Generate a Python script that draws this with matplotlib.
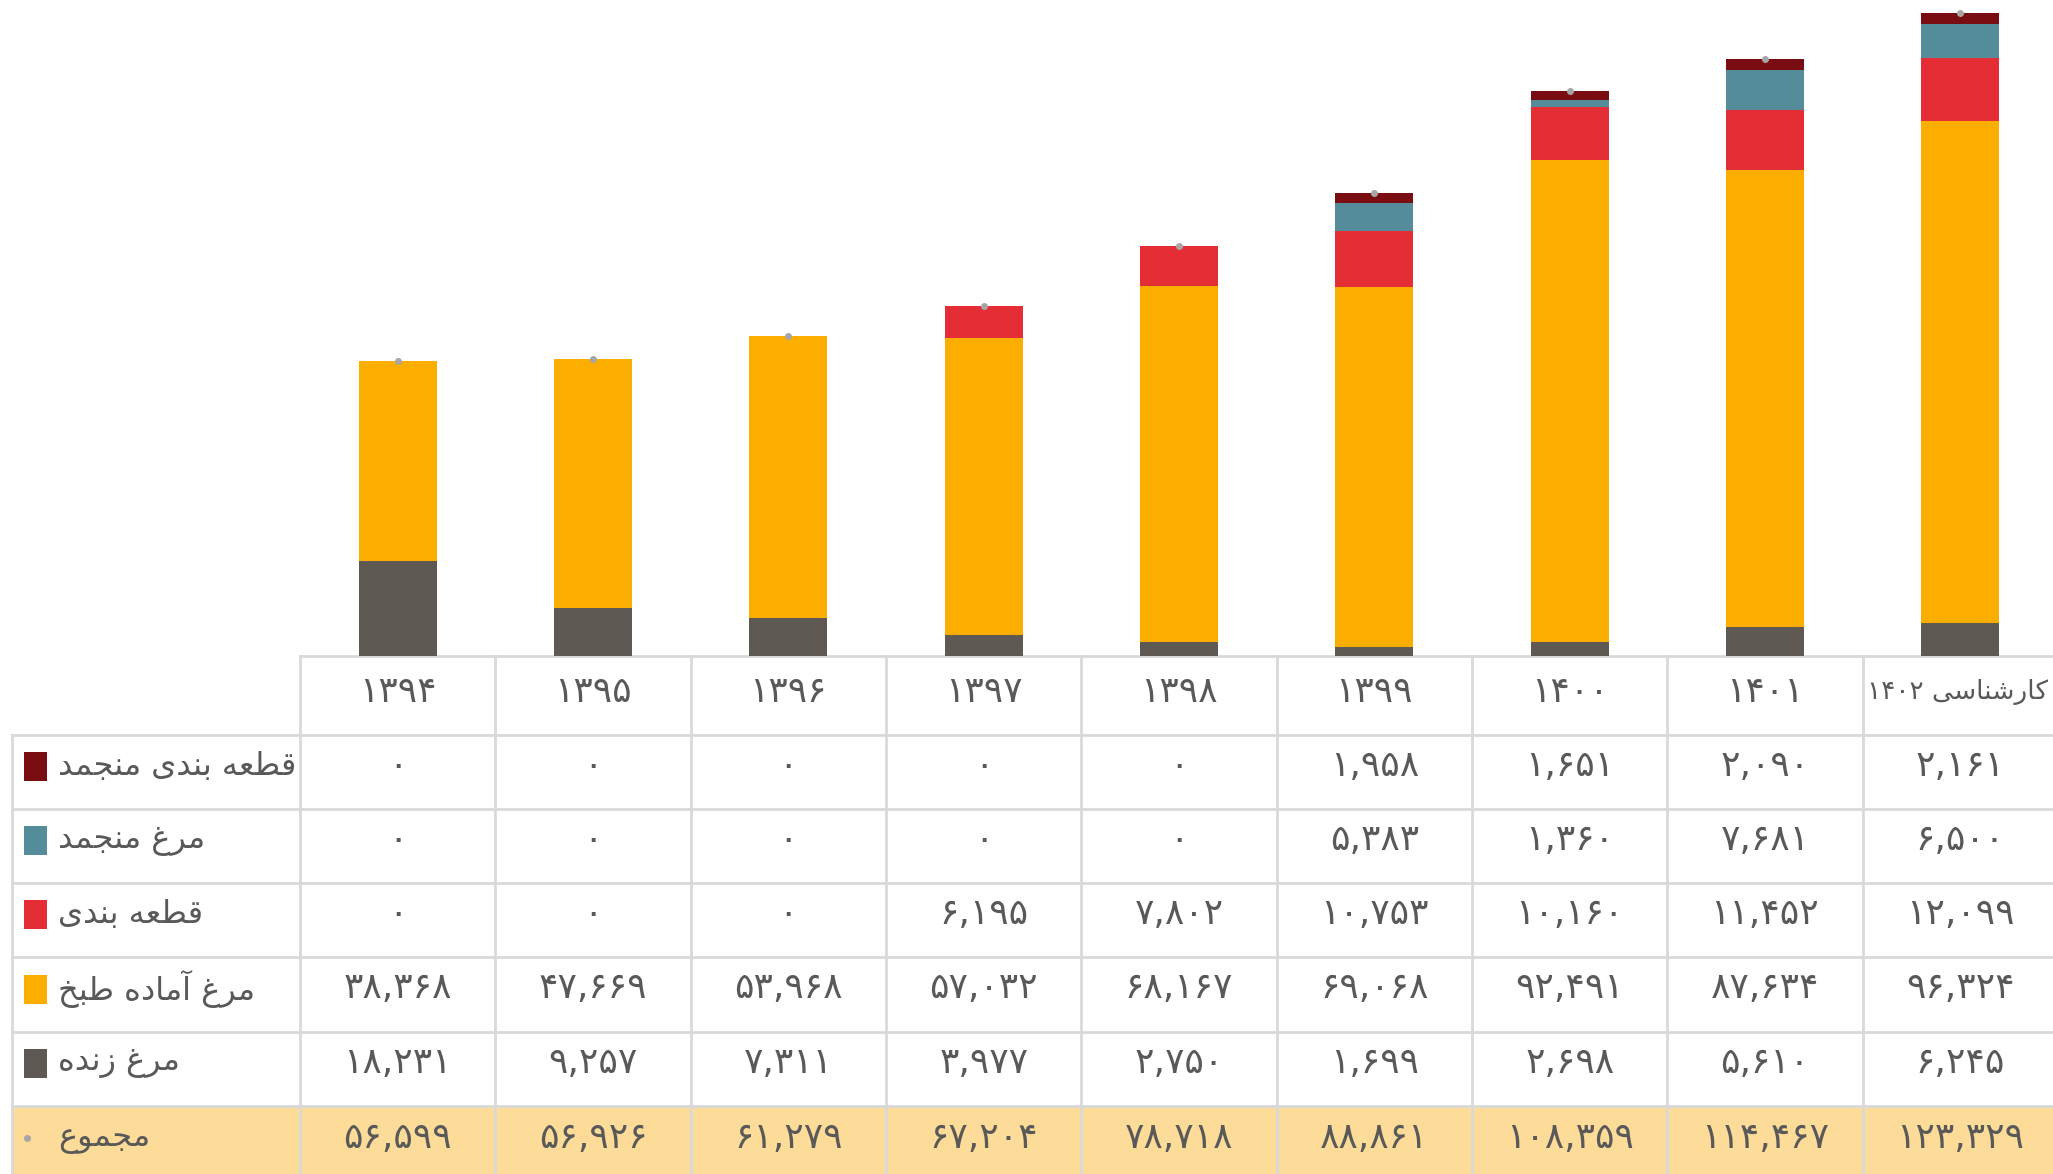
import matplotlib
matplotlib.use("Agg")
import matplotlib.pyplot as plt
from matplotlib.patches import Rectangle
from matplotlib.font_manager import findfont, FontProperties
from matplotlib.ft2font import FT2Font
import numpy as np

# ---------------- data ----------------
years = ['۱۳۹۴', '۱۳۹۵', '۱۳۹۶', '۱۳۹۷', '۱۳۹۸', '۱۳۹۹', '۱۴۰۰', '۱۴۰۱', 'کارشناسی ۱۴۰۲']
series_names = ['قطعه بندی منجمد', 'مرغ منجمد', 'قطعه بندی', 'مرغ آماده طبخ', 'مرغ زنده']
frozen_cut = [0, 0, 0, 0, 0, 1958, 1651, 2090, 2161]
frozen = [0, 0, 0, 0, 0, 5383, 1360, 7681, 6500]
cut = [0, 0, 0, 6195, 7802, 10753, 10160, 11452, 12099]
ready = [38368, 47669, 53968, 57032, 68167, 69068, 92491, 87634, 96324]
live = [18231, 9257, 7311, 3977, 2750, 1699, 2698, 5610, 6245]
total_name = 'مجموع'
total = [56599, 56926, 61279, 67204, 78718, 88861, 108359, 114467, 123329]

colors = ['#7A0D12', '#548C99', '#E42D35', '#FBAD00', '#5E5A53']

# ---------------- font / Persian shaping ----------------
FONT = 'DejaVu Sans'
plt.rcParams['font.family'] = [FONT]
_fpath = findfont(FontProperties(family=FONT))
_cmap = FT2Font(_fpath).get_charmap()

FORMS = {
    'ا': ('\uFE8D', '\uFE8E', None, None),
    'آ': ('\uFE81', '\uFE82', None, None),
    'ب': ('\uFE8F', '\uFE90', '\uFE91', '\uFE92'),
    'ج': ('\uFE9D', '\uFE9E', '\uFE9F', '\uFEA0'),
    'خ': ('\uFEA5', '\uFEA6', '\uFEA7', '\uFEA8'),
    'د': ('\uFEA9', '\uFEAA', None, None),
    'ر': ('\uFEAD', '\uFEAE', None, None),
    'ز': ('\uFEAF', '\uFEB0', None, None),
    'س': ('\uFEB1', '\uFEB2', '\uFEB3', '\uFEB4'),
    'ش': ('\uFEB5', '\uFEB6', '\uFEB7', '\uFEB8'),
    'ط': ('\uFEC1', '\uFEC2', '\uFEC3', '\uFEC4'),
    'ع': ('\uFEC9', '\uFECA', '\uFECB', '\uFECC'),
    'غ': ('\uFECD', '\uFECE', '\uFECF', '\uFED0'),
    'ق': ('\uFED5', '\uFED6', '\uFED7', '\uFED8'),
    'ک': ('\uFB8E', '\uFB8F', '\uFB90', '\uFB91'),
    'م': ('\uFEE1', '\uFEE2', '\uFEE3', '\uFEE4'),
    'ن': ('\uFEE5', '\uFEE6', '\uFEE7', '\uFEE8'),
    'ه': ('\uFEE9', '\uFEEA', '\uFEEB', '\uFEEC'),
    'و': ('\uFEED', '\uFEEE', None, None),
    'ی': ('\uFBFC', '\uFBFD', '\uFBFE', '\uFBFF'),
}
FALLBACK = {
    'ک': ('\uFED9', '\uFEDA', '\uFEDB', '\uFEDC'),
    'ی': ('\uFEEF', '\uFEF0', '\uFEF3', '\uFEF4'),
}
for k, fb in FALLBACK.items():
    if any(ord(c) not in _cmap for c in FORMS[k]):
        FORMS[k] = fb


def shape_word(w):
    out = []
    n = len(w)
    for i, ch in enumerate(w):
        if ch not in FORMS:
            out.append(ch)
            continue
        prev = w[i - 1] if i > 0 else None
        nxt = w[i + 1] if i < n - 1 else None
        jp = prev is not None and prev in FORMS and FORMS[prev][2] is not None
        jn = nxt is not None and nxt in FORMS and FORMS[ch][2] is not None
        iso, fin, ini, med = FORMS[ch]
        if jp and jn:
            out.append(med)
        elif jp:
            out.append(fin)
        elif jn:
            out.append(ini)
        else:
            out.append(iso)
    return ''.join(out)


def fa(text):
    words = text.split(' ')
    vis = []
    for w in words:
        if any(c in FORMS for c in w):
            vis.append(shape_word(w)[::-1])
        else:
            vis.append(w)
    return ' '.join(vis[::-1])


FA_DIGITS = str.maketrans('0123456789', '۰۱۲۳۴۵۶۷۸۹')


def fnum(v):
    return '{:,}'.format(v).translate(FA_DIGITS)


# ---------------- layout (pixels) ----------------
W, H = 2053, 1174
fig = plt.figure(figsize=(W / 100, H / 100), dpi=100)
fig.patch.set_facecolor('white')

x0_tab = 300          # start of data columns
x_left = 12           # left border of label column
ncol = len(years)
col_w = (2058 - x0_tab) / ncol
y_base = 656          # baseline of chart / top of table
row_lines = [735, 809, 883, 957, 1032, 1106]
y_bottom = H
grid_c = '#D9D9D9'
txt_c = '#595959'
fs_lab = 23
fs_num = 26

# table axes
tab = fig.add_axes([0, 0, 1, 1])
tab.set_xlim(0, W)
tab.set_ylim(H, 0)
tab.axis('off')

# total row background
tab.add_patch(Rectangle((x_left, row_lines[-1]), W - x_left, y_bottom - row_lines[-1],
                        facecolor='#FDDB98', edgecolor='none', zorder=0))

# grid lines
tab.plot([x0_tab, W], [y_base, y_base], color=grid_c, lw=2, zorder=1)
for y in row_lines:
    tab.plot([x_left, W], [y, y], color=grid_c, lw=2, zorder=1)
tab.plot([x_left, x_left], [row_lines[0], y_bottom], color=grid_c, lw=2, zorder=1)
for i in range(ncol + 1):
    x = x0_tab + i * col_w
    tab.plot([x, x], [y_base, y_bottom], color=grid_c, lw=2, zorder=1)

# header labels
for i, yr in enumerate(years):
    cx = x0_tab + (i + 0.5) * col_w
    if i == ncol - 1:
        vis_c = (x0_tab + i * col_w + W) / 2
        tab.text(vis_c, 692, fa(yr), ha='center', va='center', fontsize=19,
                 color=txt_c, zorder=3)
    else:
        tab.text(cx, 692, fa(yr), ha='center', va='center', fontsize=fs_num,
                 color=txt_c, zorder=3)

# data rows
rows = [frozen_cut, frozen, cut, ready, live, total]
for r, vals in enumerate(rows):
    top = row_lines[r]
    bot = row_lines[r + 1] if r + 1 < len(row_lines) else 1174
    cy = (top + bot) / 2 - 6 if r < 5 else 1138
    # legend key + label
    if r < 5:
        tab.add_patch(Rectangle((24, cy - 14), 23, 29, facecolor=colors[r], edgecolor='none', zorder=3))
        name = series_names[r]
    else:
        tab.plot([27], [cy], 'o', ms=4, color='#A6A6A6', zorder=3)
        name = total_name
    tab.text(58, cy, fa(name), ha='left', va='center', fontsize=fs_lab, color=txt_c, zorder=3)
    for i, v in enumerate(vals):
        cx = x0_tab + (i + 0.5) * col_w
        tab.text(cx, cy, fnum(v), ha='center', va='center', fontsize=fs_num, color=txt_c, zorder=3)

# ---------------- bar chart ----------------
ax = fig.add_axes([x0_tab / W, (H - y_base) / H, (ncol * col_w) / W, y_base / H])
ax.patch.set_alpha(0)
x = np.arange(ncol)
stack = [live, ready, cut, frozen, frozen_cut]
stack_colors = [colors[4], colors[3], colors[2], colors[1], colors[0]]
bottom = np.zeros(ncol)
for vals, c in zip(stack, stack_colors):
    v = np.array(vals, dtype=float)
    ax.bar(x, v, bottom=bottom, width=0.40, color=c, edgecolor='none', zorder=2)
    bottom += v
ax.plot(x, total, 'o', ms=4, color='#A6A6A6', zorder=3)
ax.set_xlim(-0.5, ncol - 0.5)
ax.set_ylim(0, 125800)
ax.axis('off')

fig.savefig('out.png', dpi=100, facecolor='white')
